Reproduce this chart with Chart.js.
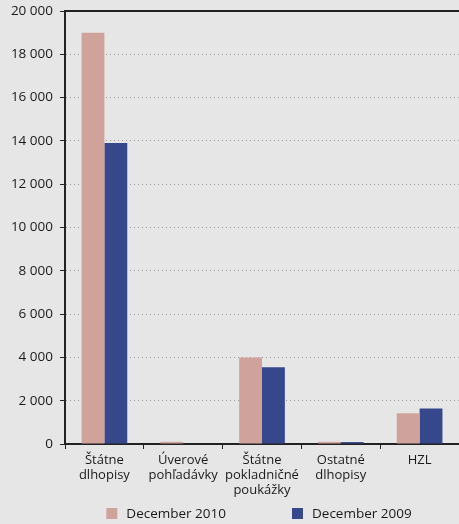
<!DOCTYPE html>
<html>
<head>
<meta charset="utf-8">
<script src="https://cdn.jsdelivr.net/npm/chart.js@4"></script>
<style>
  html, body { margin: 0; padding: 0; background: #e6e6e6; }
  #wrap { width: 459px; height: 524px; }
</style>
</head>
<body>
<div id="wrap"><canvas id="c"></canvas></div>
<script>
const categories = [
  ["Štátne", "dlhopisy"],
  ["Úverové", "pohľadávky"],
  ["Štátne", "pokladničné", "poukážky"],
  ["Ostatné", "dlhopisy"],
  ["HZL"],
];
const dec2010 = [19000, 100, 4000, 100, 1420];
const dec2009 = [13900, 0, 3550, 90, 1640];
const seriesNames = ["December 2010", "December 2009"];
const seriesColors = ["#d0a29c", "#36478b"];

Chart.defaults.font.family = "'Open Sans', sans-serif";
Chart.defaults.font.size = 13;
Chart.defaults.color = "#1a1a1a";

// dark line along the top of the plot area
const topLine = {
  id: "topLine",
  afterDraw(chart) {
    const { ctx, chartArea } = chart;
    ctx.save();
    ctx.strokeStyle = "#222";
    ctx.lineWidth = 2;
    ctx.beginPath();
    ctx.moveTo(chartArea.left, chartArea.top);
    ctx.lineTo(chartArea.right, chartArea.top);
    ctx.stroke();
    ctx.restore();
  },
};

// legend under the plot with wide spacing between the two entries
const wideLegend = {
  id: "wideLegend",
  afterDraw(chart) {
    const { ctx, chartArea } = chart;
    const box = 11, gap = 9, between = 66;
    ctx.save();
    ctx.font = "13.5px 'Open Sans', sans-serif";
    ctx.textBaseline = "middle";
    const items = chart.data.datasets.map((ds) => ({
      text: ds.label,
      color: ds.backgroundColor,
      w: box + gap + ctx.measureText(ds.label).width,
    }));
    const total = items.reduce((s, it) => s + it.w, 0) + between * (items.length - 1);
    let x = (chartArea.left + chartArea.right) / 2 - 3 - total / 2;
    const y = chart.height - 10;
    items.forEach((it) => {
      ctx.fillStyle = it.color;
      ctx.fillRect(x, y - box / 2 - 0.5, box, box);
      ctx.fillStyle = "#1a1a1a";
      ctx.fillText(it.text, x + box + gap, y);
      x += it.w + between;
    });
    ctx.restore();
  },
};

new Chart(document.getElementById("c"), {
  type: "bar",
  data: {
    labels: categories,
    datasets: [
      { label: seriesNames[0], data: dec2010, backgroundColor: seriesColors[0] },
      { label: seriesNames[1], data: dec2009, backgroundColor: seriesColors[1] },
    ],
  },
  options: {
    responsive: true,
    maintainAspectRatio: false,
    animation: false,
    categoryPercentage: 0.58,
    barPercentage: 1,
    layout: { padding: { top: 11, right: 0, left: 0, bottom: 20 } },
    plugins: {
      tooltip: { enabled: false },
      legend: { display: false },
    },
    scales: {
      x: {
        grid: {
          drawOnChartArea: false,
          drawTicks: true,
          tickLength: 5,
          tickColor: "#222",
        },
        border: { color: "#222", width: 2 },
        ticks: {
          padding: 4,
          maxRotation: 0,
          autoSkip: false,
          font: { size: 13, lineHeight: "15px" },
        },
        afterFit(s) { s.height = 60; s.paddingLeft = 0; s.paddingRight = 0; },
      },
      y: {
        min: 0,
        max: 20000,
        grid: {
          color: "#9a9a9a",
          tickColor: "#222",
          tickLength: 5,
          tickBorderDash: [],
          lineWidth: 1,
        },
        border: { color: "#222", width: 2, dash: [1, 3] },
        ticks: {
          stepSize: 2000,
          padding: 7,
          font: { size: 13.5 },
          callback: (v) => String(v).replace(/\B(?=(\d{3})+(?!\d))/g, " "),
        },
        afterFit(s) { s.width = 65; s.paddingTop = 0; s.paddingBottom = 0; },
      },
    },
  },
  plugins: [topLine, wideLegend],
});
</script>
</body>
</html>
